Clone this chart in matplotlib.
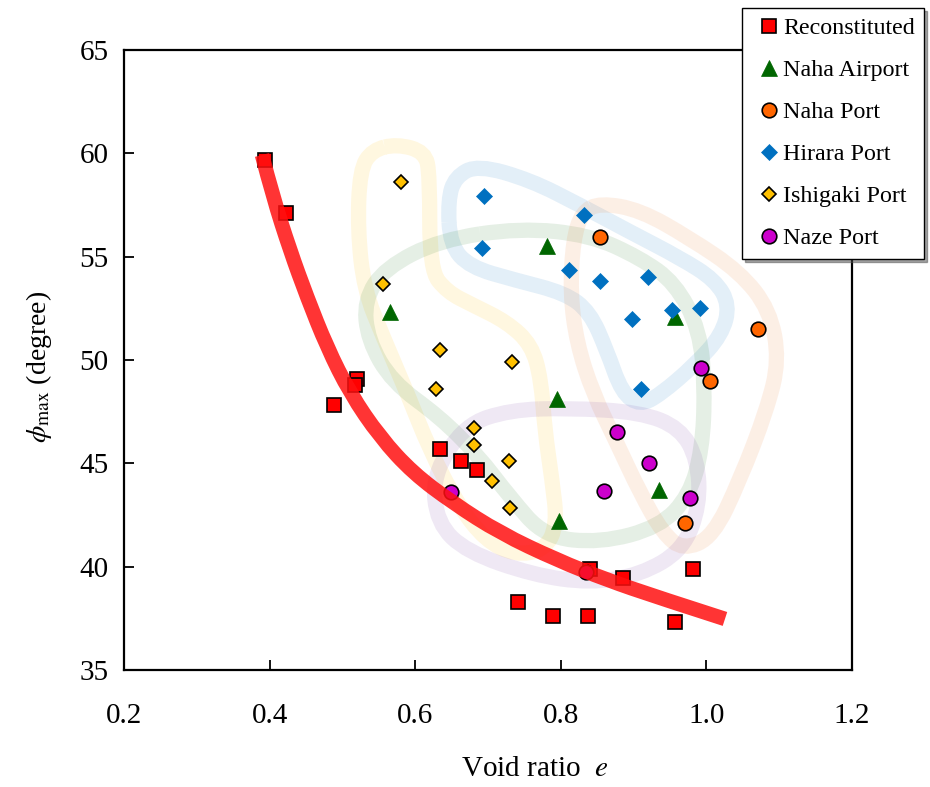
import numpy as np
import matplotlib
matplotlib.use("Agg")
import matplotlib.pyplot as plt
from matplotlib.path import Path
from matplotlib.patches import PathPatch

plt.rcParams['font.family'] = ['Liberation Serif', 'DejaVu Serif']
plt.rcParams['mathtext.fontset'] = 'stix'

# ---------------- data ----------------
recon_e = [0.394, 0.4225, 0.4885, 0.520, 0.517, 0.634, 0.663, 0.685, 0.741, 0.789, 0.837, 0.840, 0.885, 0.982, 0.957]
recon_phi = [59.7, 57.1, 47.8, 49.1, 48.8, 45.7, 45.1, 44.7, 38.3, 37.6, 37.6, 39.9, 39.45, 39.9, 37.3]

airport_e = [0.565, 0.781, 0.957, 0.795, 0.935, 0.7975]
airport_phi = [52.3, 55.5, 52.1, 48.1, 43.7, 42.2]

nahaport_e = [0.854, 1.071, 1.005, 0.971]
nahaport_phi = [55.95, 51.5, 49.0, 42.1]

hirara_e = [0.6945, 0.692, 0.832, 0.811, 0.854, 0.920, 0.898, 0.953, 0.991, 0.910]
hirara_phi = [57.95, 55.4, 57.0, 54.35, 53.8, 54.0, 52.0, 52.4, 52.5, 48.6]

ishigaki_e = [0.5805, 0.556, 0.634, 0.629, 0.733, 0.681, 0.681, 0.729, 0.7055, 0.730]
ishigaki_phi = [58.6, 53.7, 50.5, 48.6, 49.9, 46.7, 45.9, 45.1, 44.15, 42.85]

naze_e = [0.877, 0.921, 0.859, 0.9775, 0.649, 0.835, 0.993]
naze_phi = [46.5, 45.0, 43.65, 43.3, 43.6, 39.75, 49.6]

# trend curve
trend_e = [0.3896, 0.4047, 0.428, 0.4514, 0.4788, 0.5104, 0.5516, 0.597, 0.652, 0.7165, 0.7948, 0.8635, 0.932, 1.0255]
trend_phi = [59.92, 57.89, 55.32, 53.05, 50.63, 48.40, 46.27, 44.53, 43.08, 41.63, 40.32, 39.36, 38.53, 37.47]

# group outlines (control points, data coords)
ishigaki_zone_e = [0.575, 0.6135, 0.620, 0.620, 0.644, 0.679, 0.726, 0.760, 0.773, 0.778, 0.788, 0.795, 0.778,
                   0.737, 0.696, 0.659, 0.620, 0.589, 0.556, 0.530, 0.521, 0.524, 0.541]
ishigaki_zone_phi = [60.45, 60.07, 58.95, 54.36, 53.29, 52.66, 51.84, 50.73, 49.03, 46.61, 44.19, 42.02, 40.81,
                     40.56, 41.29, 42.98, 45.65, 48.40, 51.11, 53.39, 56.29, 59.20, 60.16]

hirara_zone_e = [0.645, 0.655, 0.686, 0.758, 0.826, 0.895, 0.964, 1.012, 1.032, 1.021, 0.984, 0.936, 0.909,
                 0.884, 0.863, 0.840, 0.806, 0.737, 0.675, 0.648]
hirara_zone_phi = [57.74, 58.86, 59.44, 58.71, 57.50, 56.20, 54.94, 53.87, 52.66, 51.21, 49.76, 48.31, 47.82,
                   48.40, 50.48, 52.32, 53.24, 53.87, 54.50, 55.57]

airport_zone_e = [0.744, 0.840, 0.909, 0.957, 0.991, 0.998, 0.994, 0.977, 0.936, 0.854, 0.778, 0.730, 0.686,
                  0.634, 0.568, 0.535, 0.530, 0.5585, 0.634]
airport_zone_phi = [56.39, 56.05, 54.94, 53.73, 51.45, 48.55, 45.65, 43.47, 41.92, 41.15, 41.44, 43.37, 45.40,
                    47.24, 48.94, 50.97, 52.90, 54.45, 55.81]

nahaport_zone_e = [0.854, 0.909, 0.977, 1.046, 1.087, 1.100, 1.083, 1.046, 1.009, 0.968, 0.940, 0.909, 0.877,
                   0.844, 0.822, 0.813, 0.817, 0.829]
nahaport_zone_phi = [57.60, 57.26, 55.90, 54.26, 52.42, 50.00, 47.58, 44.19, 41.44, 40.81, 41.63, 43.57, 45.98,
                     48.40, 50.82, 53.24, 55.81, 57.16]

naze_zone_e = [0.809, 0.909, 0.964, 0.988, 0.991, 0.968, 0.909, 0.840, 0.762, 0.671, 0.630, 0.624, 0.668, 0.730]
naze_zone_phi = [47.68, 47.48, 46.71, 45.16, 42.98, 40.81, 39.60, 39.21, 39.60, 40.71, 42.11, 44.44, 46.86, 47.58]

x_ticks = [0.2, 0.4, 0.6, 0.8, 1.0, 1.2]
x_ticklabels = ['0.2', '0.4', '0.6', '0.8', '1.0', '1.2']
y_ticks = [35, 40, 45, 50, 55, 60, 65]


def closed_smooth_path(xs, ys):
    pts = np.column_stack([xs, ys])
    mids = (pts + np.roll(pts, -1, axis=0)) / 2.0
    verts = [mids[-1]]
    codes = [Path.MOVETO]
    for i in range(len(pts)):
        verts += [pts[i], mids[i]]
        codes += [Path.CURVE3, Path.CURVE3]
    return Path(np.array(verts), codes)


def open_smooth_path(xs, ys):
    pts = np.column_stack([xs, ys])
    n = len(pts)
    verts = [pts[0]]
    codes = [Path.MOVETO]
    for i in range(1, n - 1):
        end = pts[i + 1] if i == n - 2 else (pts[i] + pts[i + 1]) / 2.0
        verts += [pts[i], end]
        codes += [Path.CURVE3, Path.CURVE3]
    return Path(np.array(verts), codes)


fig = plt.figure(figsize=(9.3, 7.87), dpi=100)
ax = fig.add_axes([124 / 930, (787 - 670) / 787, 728 / 930, 620 / 787])

zones = [
    (ishigaki_zone_e, ishigaki_zone_phi, '#FFC000', 0.12),
    (hirara_zone_e, hirara_zone_phi, '#0070C0', 0.11),
    (airport_zone_e, airport_zone_phi, '#006600', 0.10),
    (nahaport_zone_e, nahaport_zone_phi, '#ED7D31', 0.12),
    (naze_zone_e, naze_zone_phi, '#7030A0', 0.11),
]
for ze, zp, col, al in zones:
    ax.add_patch(PathPatch(closed_smooth_path(ze, zp), facecolor='none', edgecolor=col,
                           alpha=al, lw=11, zorder=1))

ax.plot(recon_e, recon_phi, ls='none', marker='s', ms=10, mfc='#FF0000', mec='black', mew=1.2,
        label='Reconstituted', zorder=3)
ax.plot(airport_e, airport_phi, ls='none', marker='^', ms=11, mfc='#006600', mec='#006600', mew=0.5,
        label='Naha Airport', zorder=3)
ax.plot(nahaport_e, nahaport_phi, ls='none', marker='o', ms=10.5, mfc='#FF6600', mec='black', mew=1.2,
        label='Naha Port', zorder=3)
ax.plot(hirara_e, hirara_phi, ls='none', marker='D', ms=8, mfc='#0070C0', mec='#0070C0', mew=0.5,
        label='Hirara Port', zorder=3)
ax.plot(ishigaki_e, ishigaki_phi, ls='none', marker='D', ms=7.2, mfc='#FFC000', mec='black', mew=1.2,
        label='Ishigaki Port', zorder=3)
ax.plot(naze_e, naze_phi, ls='none', marker='o', ms=10.5, mfc='#CC00CC', mec='black', mew=1.2,
        label='Naze Port', zorder=3)

ax.add_patch(PathPatch(open_smooth_path(trend_e, trend_phi), facecolor='none', edgecolor='#FF1010',
                       alpha=0.85, lw=10.5, capstyle='butt', joinstyle='round', zorder=4))

ax.set_xlim(0.2, 1.2)
ax.set_ylim(35, 65)
ax.set_xticks(x_ticks)
ax.set_xticklabels(x_ticklabels)
ax.set_yticks(y_ticks)
ax.tick_params(axis='both', direction='in', length=7, width=1.3, labelsize=21, colors='black')
ax.tick_params(axis='x', pad=24)
ax.tick_params(axis='y', pad=11)
for sp in ax.spines.values():
    sp.set_linewidth(1.6)
    sp.set_color('black')

ax.set_xlabel(r'Void ratio  $e$', fontsize=21)
ax.xaxis.set_label_coords((535 - 124) / 728, (670 - 756) / 620)
ax.set_ylabel(r'$\phi_{\mathrm{max}}$ (degree)', fontsize=20)
ax.yaxis.set_label_coords((54 - 124) / 728, (670 - 367) / 620)

leg = ax.legend(loc='upper left', bbox_to_anchor=(742 / 930, 1 - 8 / 787), bbox_transform=fig.transFigure,
                borderaxespad=0, fontsize=17.3, frameon=True, fancybox=False, shadow=True, framealpha=1,
                edgecolor='black', borderpad=0.4, handlelength=1.45, handletextpad=-0.15, labelspacing=0.84,
                numpoints=1)
leg.get_frame().set_linewidth(1.0)
leg.set_zorder(10)

fig.savefig('out.png', dpi=100)
